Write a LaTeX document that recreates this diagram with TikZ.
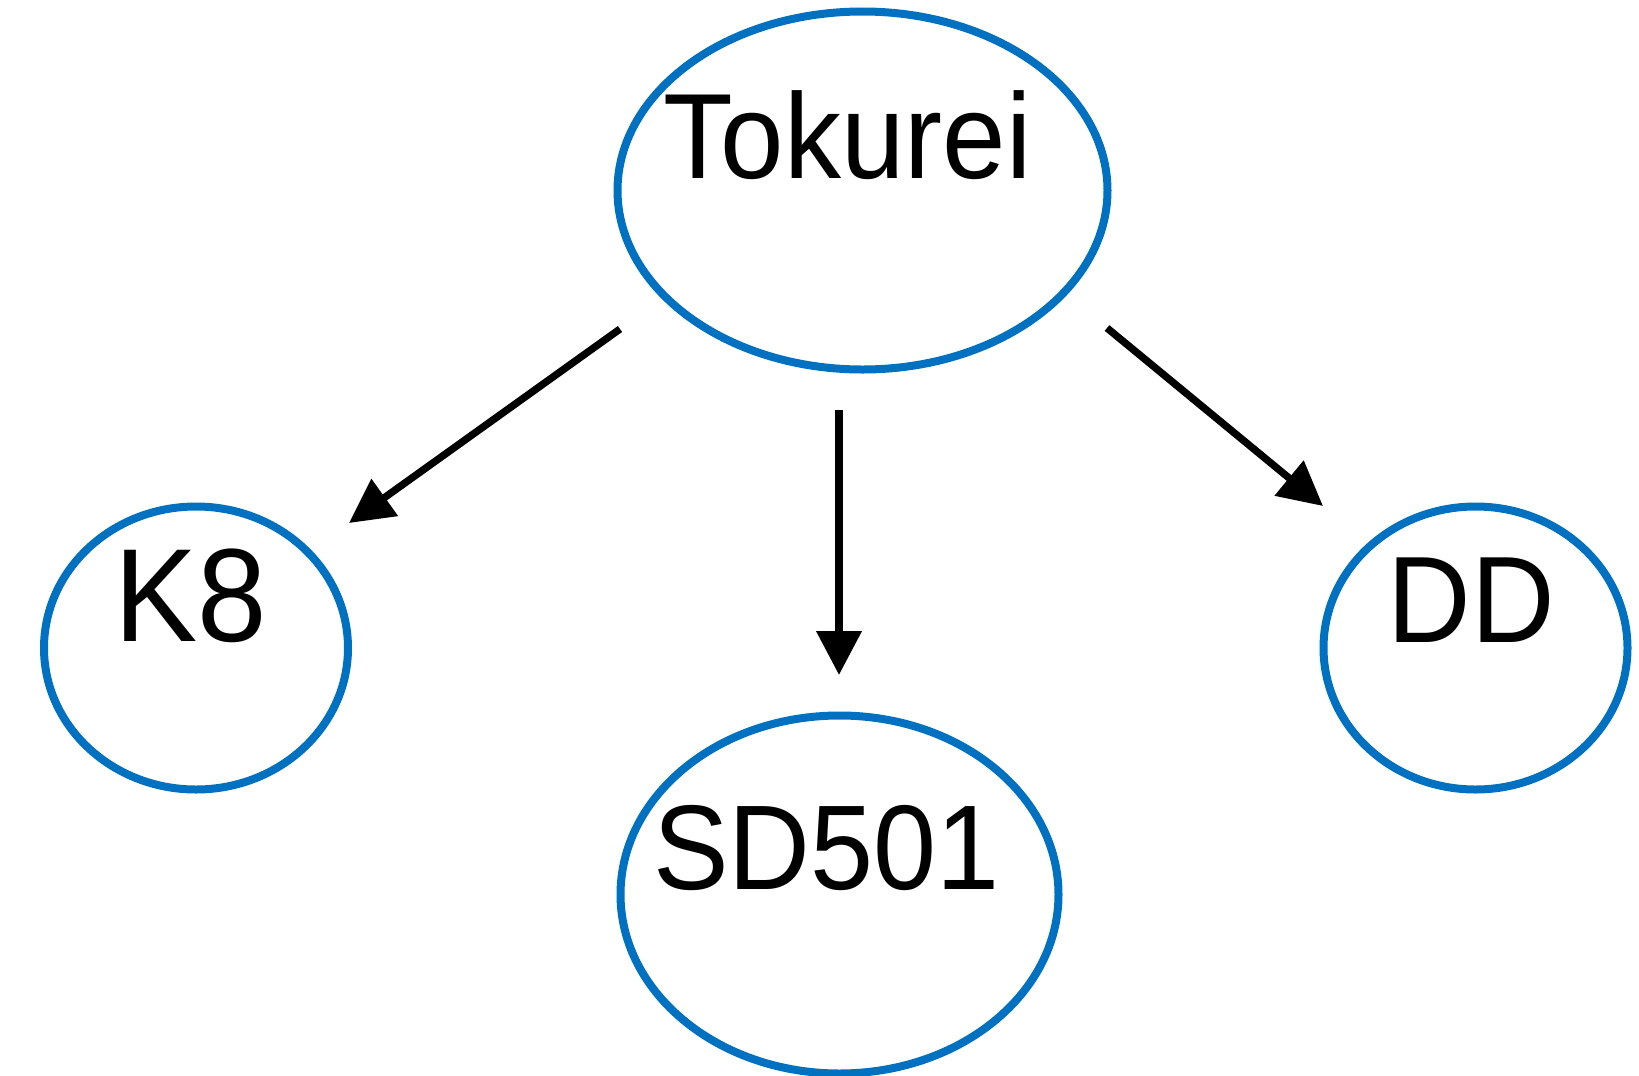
\documentclass[tikz,border=0pt]{standalone}
\usepackage{fontspec}
\setmainfont{Liberation Sans}[FakeStretch=0.94]
\usetikzlibrary{shapes.geometric,arrows.meta}
\definecolor{nodeblue}{RGB}{0,112,192}

\begin{document}
\begin{tikzpicture}[x=0.75pt,y=0.75pt,yscale=-1,xscale=1,
  blob/.style={ellipse,draw=nodeblue,line width=6pt,inner sep=0pt},
  lbl/.style={anchor=base,inner sep=0pt},
  link/.style={line width=5.5pt,-{Triangle[length=33pt,width=33pt]}}]
\useasboundingbox (0,0) rectangle (1639,1075);

%Shape: Ellipse [tok]
\node[blob,minimum width=367.5pt,minimum height=268.5pt] (tok) at (862.5,190.5) {};
%Shape: Ellipse [k8]
\node[blob,minimum width=228pt,minimum height=212.25pt] (k8) at (196,648) {};
%Shape: Ellipse [sd]
\node[blob,minimum width=328.5pt,minimum height=268.5pt] (sd) at (839.5,894.5) {};
%Shape: Ellipse [dd]
\node[blob,minimum width=228pt,minimum height=212.25pt] (dd) at (1475.5,648) {};

% Text Node
\node[lbl,font=\fontsize{91}{100}\selectfont] (tokt) at (847.5,178) {Tokurei};
% Text Node
\node[lbl,font=\fontsize{99.5}{110}\selectfont] (k8t) at (191,641) {K8};
% Text Node
\node[lbl,font=\fontsize{90.4}{100}\selectfont] (sdt) at (826.5,889) {SD501};
% Text Node
\node[lbl,font=\fontsize{92.3}{100}\selectfont] (ddt) at (1471.5,642) {DD};

% arrow ends
\coordinate (tokA) at (620,329);
\coordinate (k8A) at (349,523);
\coordinate (tokB) at (839,410);
\coordinate (sdB) at (839,675);
\coordinate (tokC) at (1107,328);
\coordinate (ddC) at (1323,506);

%Straight Lines
\draw[link] (tokA) -- (k8A);
%Straight Lines
\draw[link] (tokB) -- (sdB);
%Straight Lines
\draw[link] (tokC) -- (ddC);

\end{tikzpicture}
\end{document}
